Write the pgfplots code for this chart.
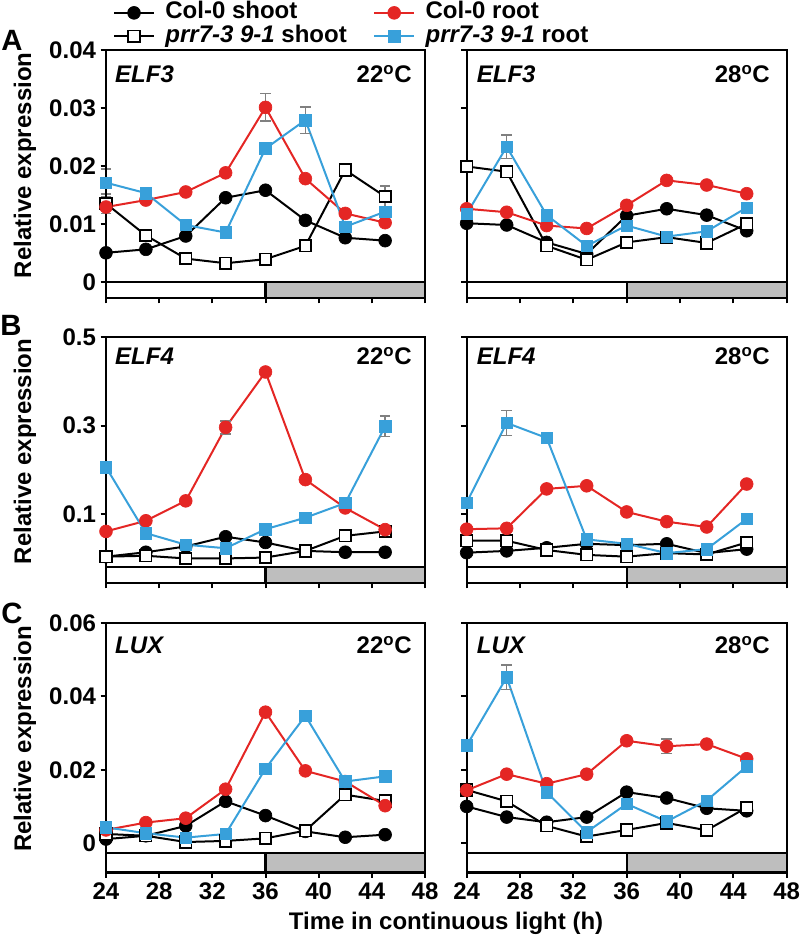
\documentclass[border=0pt]{standalone}
\usepackage{fontspec}
\setmainfont{Liberation Sans}
\usepackage{pgfplots}
\pgfplotsset{compat=1.18}
\definecolor{cred}{RGB}{228,38,36}
\definecolor{cblue}{RGB}{56,160,218}
\definecolor{bargray}{RGB}{190,190,190}
\definecolor{errgray}{RGB}{128,128,128}
\newcommand{\ff}{\fontsize{18}{21}\selectfont\bfseries}
\pgfplotsset{
  panel/.style={
    scale only axis, anchor=north west,
    xmin=24, xmax=48, xtick={24,28,...,48},
    scaled y ticks=false, scaled x ticks=false,
    axis line style={line width=1.6pt},
    tick style={line width=1.5pt, black},
    major tick length=4pt,
    tick align=outside,
    xtick pos=bottom, ytick pos=left,
    ticklabel style={font=\ff},
    /pgf/number format/assume math mode=true,
    clip=false, axis on top,
    ylabel style={font=\ff, at={(axis description cs:-0.254,0.535)}, anchor=center},
  },
  leftp/.style={panel, width=239.25pt},
  rightp/.style={panel, width=240pt, yticklabels={}},
  s1/.style={black, line width=1.5pt, mark=*, mark size=4.8pt, mark options={fill=black, draw=black, line width=0.5pt}},
  s2/.style={black, line width=1.5pt, mark=square*, mark size=4.3pt, mark options={fill=white, draw=black, line width=1.3pt}},
  s3/.style={cred, line width=1.5pt, mark=*, mark size=4.8pt, mark options={fill=cred, draw=cred, line width=0.5pt}},
  s4/.style={cblue, line width=1.5pt, mark=square*, mark size=4.3pt, mark options={fill=cblue, draw=cblue, line width=0.5pt}},
  eb/.style={error bars/y dir=both, error bars/y explicit, error bars/error bar style={errgray, line width=1.2pt}, error bars/error mark options={rotate=90, errgray, mark size=4pt, line width=1.2pt}},
}
\newcommand{\lightbar}[1]{%
  \fill[bargray] (axis cs:36,\pgfkeysvalueof{/pgfplots/ymin}) rectangle (axis cs:48,#1);
  \draw[line width=1.6pt] (axis cs:24,#1) -- (axis cs:48,#1);
  \draw[line width=1.6pt] (axis cs:36,\pgfkeysvalueof{/pgfplots/ymin}) -- (axis cs:36,#1);
}
\begin{document}
\begin{tikzpicture}
\useasboundingbox (0,0) rectangle (600pt,-703.5pt);

% ---------------- A left
\begin{axis}[leftp, at={(79.5pt,-37.5pt)}, height=186pt,
  ymin=-0.0028, ymax=0.04, ytick={0,0.01,0.02,0.03,0.04},
  yticklabels={0,0.01,0.02,0.03,0.04}, xticklabels={},
  ylabel={Relative expression},
  legend columns=2, legend cell align=left,
  legend image code/.code={\draw[mark repeat=2,mark phase=2] plot coordinates {(0pt,0pt) (15pt,0pt) (30pt,0pt)};},
  legend style={draw=none, fill=none, at={(axis description cs:0.022,1.197)}, anchor=north west,
    font=\ff, inner sep=0pt, outer sep=0pt, row sep=0pt,
    nodes={inner sep=0.8pt, text height=12.5pt, text depth=3.5pt},
    /tikz/every odd column/.append style={column sep=7pt},
    /tikz/every even column/.append style={column sep=19pt}},
]
\addlegendimage{s1}\addlegendentry{Col-0 shoot}
\addlegendimage{s3}\addlegendentry{Col-0 root}
\addlegendimage{s2}\addlegendentry{\textit{prr7-3 9-1} shoot}
\addlegendimage{s4}\addlegendentry{\textit{prr7-3 9-1} root}
\lightbar{0}
\addplot[s1, forget plot] coordinates {(24,0.0050)(27,0.0056)(30,0.0079)(33,0.0145)(36,0.0158)(39,0.0106)(42,0.0076)(45,0.0071)};
\addplot[s2, eb, forget plot] coordinates {(24,0.0135)+-(0,0.0017) (27,0.0080)+-(0,0) (30,0.0040)+-(0,0) (33,0.0032)+-(0,0) (36,0.0039)+-(0,0) (39,0.0062)+-(0,0) (42,0.0193)+-(0,0) (45,0.0147)+-(0,0.0018)};
\addplot[s3, eb, forget plot] coordinates {(24,0.0129)+-(0,0) (27,0.0141)+-(0,0) (30,0.0155)+-(0,0) (33,0.0188)+-(0,0) (36,0.0301)+-(0,0.0024) (39,0.0178)+-(0,0) (42,0.0118)+-(0,0) (45,0.0102)+-(0,0)};
\addplot[s4, eb, forget plot] coordinates {(24,0.0171)+-(0,0.0024) (27,0.0153)+-(0,0) (30,0.0098)+-(0,0) (33,0.0085)+-(0,0) (36,0.0230)+-(0,0) (39,0.0279)+-(0,0.0023) (42,0.0095)+-(0,0) (45,0.0121)+-(0,0)};
\node[font=\fontsize{22}{24}\selectfont\bfseries] at (axis description cs:-0.295,1.040) {A};
\node[anchor=west, inner sep=0pt, font=\ff\itshape] at (axis description cs:0.028,0.903) {ELF3};
\node[anchor=east, inner sep=0pt, font=\ff] at (axis description cs:0.959,0.903) {22\textsuperscript{o}C};
\end{axis}

% ---------------- A right
\begin{axis}[rightp, at={(350pt,-37.5pt)}, height=186pt,
  ymin=-0.0028, ymax=0.04, ytick={0,0.01,0.02,0.03,0.04}, xticklabels={}]
\lightbar{0}
\addplot[s1] coordinates {(24,0.0101)(27,0.0098)(30,0.0068)(33,0.0048)(36,0.0114)(39,0.0126)(42,0.0115)(45,0.0088)};
\addplot[s2, eb] coordinates {(24,0.0199)+-(0,0) (27,0.0190)+-(0,0) (30,0.0062)+-(0,0.001) (33,0.0038)+-(0,0) (36,0.0068)+-(0,0) (39,0.0077)+-(0,0) (42,0.0067)+-(0,0) (45,0.0100)+-(0,0)};
\addplot[s3] coordinates {(24,0.0126)(27,0.0120)(30,0.0097)(33,0.0092)(36,0.0132)(39,0.0175)(42,0.0167)(45,0.0152)};
\addplot[s4, eb] coordinates {(24,0.0117)+-(0,0) (27,0.0233)+-(0,0.002) (30,0.0115)+-(0,0) (33,0.0062)+-(0,0) (36,0.0097)+-(0,0) (39,0.0078)+-(0,0) (42,0.0087)+-(0,0) (45,0.0128)+-(0,0)};
\node[anchor=west, inner sep=0pt, font=\ff\itshape] at (axis description cs:0.031,0.903) {ELF3};
\node[anchor=east, inner sep=0pt, font=\ff] at (axis description cs:0.948,0.903) {28\textsuperscript{o}C};
\end{axis}

% ---------------- B left
\begin{axis}[leftp, at={(79.5pt,-252.75pt)}, height=184.5pt,
  ymin=-0.0555, ymax=0.5, ytick={0.1,0.3,0.5},
  yticklabels={0.1,0.3,0.5}, xticklabels={},
  ylabel={Relative expression}]
\lightbar{-0.0186}
\addplot[s1] coordinates {(24,0.004)(27,0.014)(30,0.027)(33,0.049)(36,0.036)(39,0.017)(42,0.014)(45,0.014)};
\addplot[s2] coordinates {(24,0.004)(27,0.006)(30,0.0)(33,0.0)(36,0.002)(39,0.017)(42,0.051)(45,0.061)};
\addplot[s3, eb] coordinates {(24,0.061)+-(0,0) (27,0.085)+-(0,0) (30,0.130)+-(0,0) (33,0.296)+-(0,0.015) (36,0.421)+-(0,0) (39,0.178)+-(0,0) (42,0.114)+-(0,0) (45,0.065)+-(0,0)};
\addplot[s4, eb] coordinates {(24,0.206)+-(0,0) (27,0.057)+-(0,0) (30,0.031)+-(0,0) (33,0.023)+-(0,0) (36,0.066)+-(0,0) (39,0.092)+-(0,0) (42,0.125)+-(0,0) (45,0.298)+-(0,0.023)};
\node[font=\fontsize{22}{24}\selectfont\bfseries] at (axis description cs:-0.298,1.049) {B};
\node[anchor=west, inner sep=0pt, font=\ff\itshape] at (axis description cs:0.028,0.923) {ELF4};
\node[anchor=east, inner sep=0pt, font=\ff] at (axis description cs:0.959,0.923) {22\textsuperscript{o}C};
\end{axis}

% ---------------- B right
\begin{axis}[rightp, at={(350pt,-252.75pt)}, height=184.5pt,
  ymin=-0.0555, ymax=0.5, ytick={0.1,0.3,0.5}, xticklabels={}]
\lightbar{-0.0186}
\addplot[s1] coordinates {(24,0.013)(27,0.017)(30,0.024)(33,0.033)(36,0.030)(39,0.033)(42,0.012)(45,0.021)};
\addplot[s2] coordinates {(24,0.040)(27,0.040)(30,0.019)(33,0.008)(36,0.004)(39,0.012)(42,0.009)(45,0.036)};
\addplot[s3] coordinates {(24,0.066)(27,0.068)(30,0.157)(33,0.164)(36,0.105)(39,0.083)(42,0.071)(45,0.168)};
\addplot[s4, eb] coordinates {(24,0.126)+-(0,0) (27,0.306)+-(0,0.028) (30,0.272)+-(0,0) (33,0.043)+-(0,0) (36,0.033)+-(0,0) (39,0.012)+-(0,0) (42,0.021)+-(0,0) (45,0.089)+-(0,0)};
\node[anchor=west, inner sep=0pt, font=\ff\itshape] at (axis description cs:0.031,0.923) {ELF4};
\node[anchor=east, inner sep=0pt, font=\ff] at (axis description cs:0.948,0.923) {28\textsuperscript{o}C};
\end{axis}

% ---------------- C left
\begin{axis}[leftp, at={(79.5pt,-467.25pt)}, height=187.1pt,
  ymin=-0.008, ymax=0.06, ytick={0,0.02,0.04,0.06},
  yticklabels={0,0.02,0.04,0.06},
  ylabel={Relative expression}]
\lightbar{-0.0027}
\addplot[s1] coordinates {(24,0.0011)(27,0.0020)(30,0.0047)(33,0.0114)(36,0.0075)(39,0.0032)(42,0.0016)(45,0.0023)};
\addplot[s2] coordinates {(24,0.0025)(27,0.0020)(30,0.0003)(33,0.0006)(36,0.0013)(39,0.0034)(42,0.0132)(45,0.0115)};
\addplot[s3] coordinates {(24,0.0036)(27,0.0056)(30,0.0068)(33,0.0147)(36,0.0357)(39,0.0197)(42,0.0168)(45,0.0102)};
\addplot[s4] coordinates {(24,0.0043)(27,0.0027)(30,0.0015)(33,0.0025)(36,0.0203)(39,0.0347)(42,0.0168)(45,0.0182)};
\node[font=\fontsize{22}{24}\selectfont\bfseries] at (axis description cs:-0.295,1.040) {C};
\node[anchor=west, inner sep=0pt, font=\ff\itshape] at (axis description cs:0.028,0.912) {LUX};
\node[anchor=east, inner sep=0pt, font=\ff] at (axis description cs:0.959,0.912) {22\textsuperscript{o}C};
\node[font=\ff] at (axis description cs:1.066,-0.2024) {Time in continuous light (h)};
\end{axis}

% ---------------- C right
\begin{axis}[rightp, at={(350pt,-467.25pt)}, height=187.1pt,
  ymin=-0.008, ymax=0.06, ytick={0,0.02,0.04,0.06}]
\lightbar{-0.0027}
\addplot[s1] coordinates {(24,0.0100)(27,0.0071)(30,0.0057)(33,0.0071)(36,0.0139)(39,0.0123)(42,0.0095)(45,0.0088)};
\addplot[s2] coordinates {(24,0.0145)(27,0.0114)(30,0.0047)(33,0.0018)(36,0.0036)(39,0.0055)(42,0.0035)(45,0.0097)};
\addplot[s3, eb] coordinates {(24,0.0144)+-(0,0) (27,0.0188)+-(0,0) (30,0.0162)+-(0,0) (33,0.0188)+-(0,0) (36,0.0279)+-(0,0) (39,0.0264)+-(0,0.002) (42,0.0270)+-(0,0) (45,0.0230)+-(0,0)};
\addplot[s4, eb] coordinates {(24,0.0266)+-(0,0) (27,0.0452)+-(0,0.0033) (30,0.0139)+-(0,0) (33,0.0030)+-(0,0) (36,0.0107)+-(0,0) (39,0.0059)+-(0,0) (42,0.0116)+-(0,0) (45,0.0209)+-(0,0.001)};
\node[anchor=west, inner sep=0pt, font=\ff\itshape] at (axis description cs:0.031,0.912) {LUX};
\node[anchor=east, inner sep=0pt, font=\ff] at (axis description cs:0.948,0.912) {28\textsuperscript{o}C};
\end{axis}
\end{tikzpicture}
\end{document}
